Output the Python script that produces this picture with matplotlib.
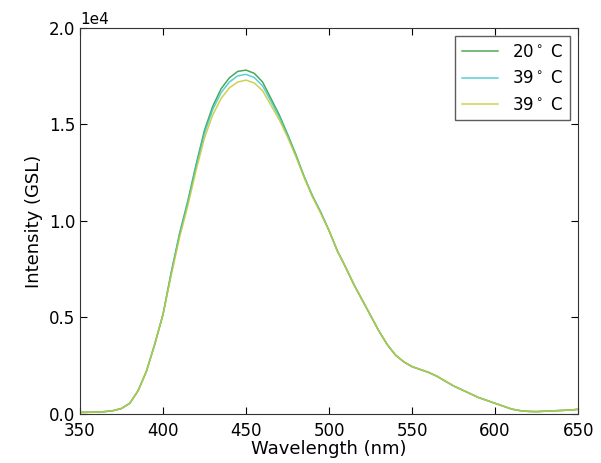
import matplotlib
matplotlib.use('Agg')
import matplotlib.pyplot as plt

wl = [350, 355, 360, 365, 370, 375, 380, 385, 390, 395, 400, 405, 410, 415, 420,
      425, 430, 435, 440, 445, 450, 455, 460, 465, 470, 475, 480, 485, 490, 495,
      500, 505, 510, 515, 520, 525, 530, 535, 540, 545, 550, 555, 560, 565, 570,
      575, 580, 585, 590, 595, 600, 605, 610, 615, 620, 625, 630, 635, 640, 645, 650]

rise = [80, 85, 95, 120, 170, 280, 550, 1200, 2200, 3600, 5150]
tail = [9500, 8450, 7600, 6700, 5900, 5100, 4300, 3600, 3050, 2700, 2450, 2300,
        2150, 1950, 1700, 1450, 1250, 1050, 850, 700, 550, 400, 250, 170, 130,
        120, 140, 160, 180, 200, 240]

t20 = rise + [7350, 9350, 11050, 12950, 14700, 15950, 16850, 17420, 17750, 17820,
              17650, 17200, 16350, 15500, 14500, 13450, 12300, 11300, 10450] + tail
t39a = rise + [7300, 9300, 10980, 12850, 14550, 15780, 16650, 17200, 17520, 17600,
               17430, 17000, 16200, 15400, 14450, 13400, 12300, 11300, 10450] + tail
t39b = rise + [7200, 9150, 10800, 12650, 14300, 15500, 16350, 16900, 17200, 17300,
               17150, 16750, 16000, 15250, 14350, 13350, 12250, 11250, 10400] + tail

labels = [r'20$^\circ$ C', r'39$^\circ$ C', r'39$^\circ$ C']
colors = ['#2a9a3a', '#3cc8d0', '#c8c830']

fig = plt.figure(figsize=(6.01, 4.63), dpi=100, facecolor='white')
ax = fig.add_axes([0.133, 0.106, 0.829, 0.8335])

for y, lab, c in zip([t20, t39a, t39b], labels, colors):
    ax.plot(wl, y, color=c, lw=1.1, label=lab, alpha=0.85)

ax.set_xlim(350, 650)
ax.set_ylim(0, 20000)
ax.set_xticks(range(350, 651, 50))
ax.set_yticks([0, 5000, 10000, 15000, 20000])
ax.ticklabel_format(axis='y', style='sci', scilimits=(0, 0))
ax.yaxis.get_offset_text().set_fontsize(11)
ax.tick_params(direction='in', top=True, right=True, labelsize=12, length=5)
ax.tick_params(axis='x', pad=6)
ax.set_xlabel('Wavelength (nm)', fontsize=13, labelpad=0)
ax.set_ylabel('Intensity (GSL)', fontsize=13)
for s in ax.spines.values():
    s.set_color('#333333')

leg = ax.legend(loc='upper right', fontsize=12, fancybox=False, handlelength=2.2)
leg.get_frame().set_edgecolor('#333333')
leg.get_frame().set_linewidth(1.0)

fig.savefig('out.png', dpi=100, facecolor='white')
